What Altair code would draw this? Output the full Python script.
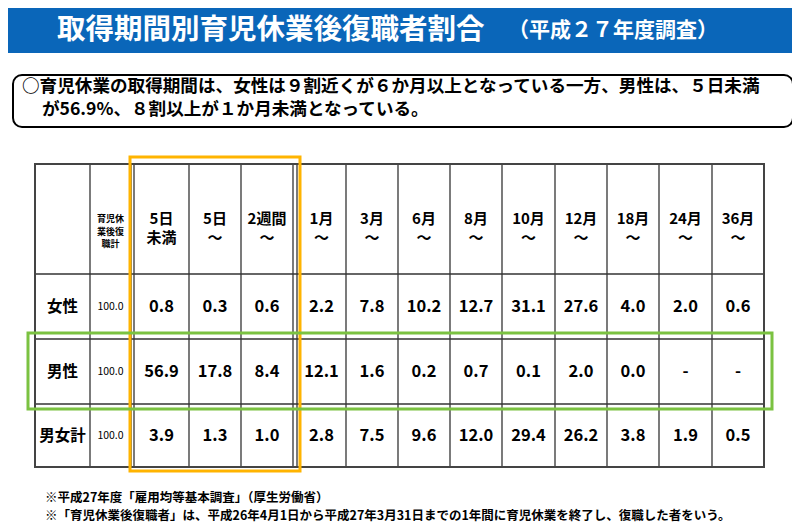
import altair as alt
import pandas as pd

# ---------------- data ----------------
title_main = "取得期間別育児休業後復職者割合"
title_sub = "（平成２７年度調査）"
summary_lines = [
    "○育児休業の取得期間は、女性は９割近くが６か月以上となっている一方、男性は、５日未満",
    "が56.9%、８割以上が１か月未満となっている。",
]
footnotes = [
    "※平成27年度「雇用均等基本調査」（厚生労働省）",
    "※「育児休業後復職者」は、平成26年4月1日から平成27年3月31日までの1年間に育児休業を終了し、復職した者をいう。",
]
total_header = "育児休\n業後復\n職計"
periods = ["5日\n未満", "5日\n〜", "2週間\n〜", "1月\n〜", "3月\n〜", "6月\n〜",
           "8月\n〜", "10月\n〜", "12月\n〜", "18月\n〜", "24月\n〜", "36月\n〜"]
groups = ["女性", "男性", "男女計"]
group_totals = [100.0, 100.0, 100.0]
female = [0.8, 0.3, 0.6, 2.2, 7.8, 10.2, 12.7, 31.1, 27.6, 4.0, 2.0, 0.6]
male = [56.9, 17.8, 8.4, 12.1, 1.6, 0.2, 0.7, 0.1, 2.0, 0.0, None, None]
both = [3.9, 1.3, 1.0, 2.8, 7.5, 9.6, 12.0, 29.4, 26.2, 3.8, 1.9, 0.5]
series = [female, male, both]

# ---------------- layout (page pixel grid) ----------------
FONT = "Noto Sans CJK JP"
W, H, M = 784, 515, 8
label_col = (35, 90)
total_col = (90, 131)
period_starts = [134, 189, 241, 297, 346, 398, 450, 502, 555, 607, 659, 712]
period_ends = [189, 241, 293, 346, 398, 450, 502, 555, 607, 659, 712, 764]
row_edges = [164, 274, 339, 404, 467]
v_lines = [35, 90, 131, 134, 189, 241, 293, 297, 346, 398, 450, 502, 555, 607, 659, 712, 764]

xs = alt.Scale(domain=[M, M + W], nice=False, zero=False)
ys = alt.Scale(domain=[M, M + H], nice=False, zero=False, reverse=True)


def X(f="x"):
    return alt.X(f"{f}:Q", scale=xs, axis=None)


def Y(f="y"):
    return alt.Y(f"{f}:Q", scale=ys, axis=None)


# header band
band = alt.Chart(pd.DataFrame({"x": [M], "x2": [M + W], "y": [M], "y2": [53]})).mark_rect(
    color="#0a66b9").encode(x=X(), x2="x2:Q", y=Y(), y2="y2:Q")

title1 = alt.Chart(pd.DataFrame({"t": [title_main], "x": [57], "y": [30]})).mark_text(
    font=FONT, fontSize=28.5, fontWeight="bold", color="white", align="left", baseline="middle"
).encode(x=X(), y=Y(), text="t:N")
title2 = alt.Chart(pd.DataFrame({"t": [title_sub], "x": [508], "y": [31]})).mark_text(
    font=FONT, fontSize=21, fontWeight="bold", color="white", align="left", baseline="middle"
).encode(x=X(), y=Y(), text="t:N")

# summary box
box = alt.Chart(pd.DataFrame({"x": [13], "x2": [793], "y": [75], "y2": [127]})).mark_rect(
    fill="white", stroke="black", strokeWidth=2, cornerRadius=9
).encode(x=X(), x2="x2:Q", y=Y(), y2="y2:Q")
summ = alt.Chart(pd.DataFrame({"t": summary_lines, "x": [22, 42], "y": [87, 110]})).mark_text(
    font=FONT, fontSize=17.6, fontWeight="bold", color="black", align="left", baseline="middle"
).encode(x=X(), y=Y(), text="t:N")

# table grid
hl = pd.DataFrame({"y": row_edges, "x": [label_col[0]] * 5, "x2": [period_ends[-1]] * 5})
vl = pd.DataFrame({"x": v_lines, "y": [row_edges[0]] * len(v_lines), "y2": [row_edges[-1]] * len(v_lines)})
hrules = alt.Chart(hl).mark_rule(color="#333333", strokeWidth=1.3).encode(x=X(), x2="x2:Q", y=Y())
vrules = alt.Chart(vl).mark_rule(color="#333333", strokeWidth=1.3).encode(x=X(), y=Y(), y2="y2:Q")
outer = alt.Chart(pd.DataFrame({"x": [label_col[0]], "x2": [period_ends[-1]],
                                "y": [row_edges[0]], "y2": [row_edges[-1]]})).mark_rect(
    fillOpacity=0, stroke="#444444", strokeWidth=2).encode(x=X(), x2="x2:Q", y=Y(), y2="y2:Q")

# header texts
hdr_y = (row_edges[0] + row_edges[1]) / 2
ph = pd.DataFrame({"t": periods,
                   "x": [(a + b) / 2 for a, b in zip(period_starts, period_ends)],
                   "y": [hdr_y] * len(periods)})
period_hdr = alt.Chart(ph).mark_text(
    font=FONT, fontSize=15, fontWeight="bold", color="black", lineBreak="\n", lineHeight=19,
    baseline="middle", align="center"
).encode(x=X(), y=Y(), text="t:N")
th = pd.DataFrame({"t": [total_header], "x": [sum(total_col) / 2], "y": [hdr_y]})
total_hdr = alt.Chart(th).mark_text(
    font=FONT, fontSize=9, fontWeight="bold", color="black", lineBreak="\n", lineHeight=12.5,
    baseline="middle", align="center"
).encode(x=X(), y=Y(), text="t:N")

# body texts
row_c = [(row_edges[i] + row_edges[i + 1]) / 2 for i in range(1, 4)]
gl = pd.DataFrame({"t": groups, "x": [sum(label_col) / 2] * 3, "y": row_c})
group_lbl = alt.Chart(gl).mark_text(
    font=FONT, fontSize=15.5, fontWeight="bold", color="black", baseline="middle", align="center"
).encode(x=X(), y=Y(), text="t:N")
tl = pd.DataFrame({"t": [f"{v:.1f}" for v in group_totals], "x": [sum(total_col) / 2] * 3, "y": row_c})
total_lbl = alt.Chart(tl).mark_text(
    font=FONT, fontSize=10.5, color="black", baseline="middle", align="center"
).encode(x=X(), y=Y(), text="t:N")
rows = []
for gi, vals in enumerate(series):
    for pi, v in enumerate(vals):
        rows.append({"t": "-" if v is None else f"{v:.1f}",
                     "x": (period_starts[pi] + period_ends[pi]) / 2, "y": row_c[gi]})
vals_lbl = alt.Chart(pd.DataFrame(rows)).mark_text(
    font=FONT, fontSize=16.5, fontWeight="bold", color="black", baseline="middle", align="center"
).encode(x=X(), y=Y(), text="t:N")

# highlight frames
orange = alt.Chart(pd.DataFrame({"x": [130], "x2": [300], "y": [157], "y2": [471]})).mark_rect(
    fillOpacity=0, stroke="#ffb400", strokeWidth=3).encode(x=X(), x2="x2:Q", y=Y(), y2="y2:Q")
green = alt.Chart(pd.DataFrame({"x": [28], "x2": [772], "y": [333], "y2": [409]})).mark_rect(
    fillOpacity=0, stroke="#7bc241", strokeWidth=3).encode(x=X(), x2="x2:Q", y=Y(), y2="y2:Q")

# footnotes
fn = alt.Chart(pd.DataFrame({"t": footnotes, "x": [45, 45], "y": [498, 516]})).mark_text(
    font=FONT, fontSize=12.5, fontWeight="bold", color="black", align="left", baseline="middle"
).encode(x=X(), y=Y(), text="t:N")

chart = alt.layer(
    band, title1, title2, box, summ, hrules, vrules, outer, period_hdr, total_hdr,
    group_lbl, total_lbl, vals_lbl, orange, green, fn
).properties(width=W, height=H, padding=0, autosize=alt.AutoSizeParams(type="none")
).configure_view(stroke="transparent")

chart.save("out.html", embed_options={"renderer": "svg", "actions": False})
